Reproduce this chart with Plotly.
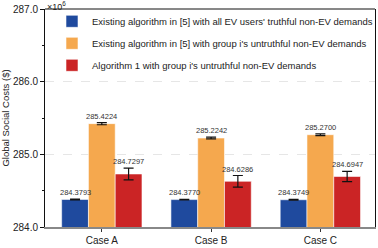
import plotly.graph_objects as go

cases = ["Case A", "Case B", "Case C"]
names = [
    "Existing algorithm in [5] with all EV users' truthful non-EV demands",
    "Existing algorithm in [5] with group i's untruthful non-EV demands",
    "Algorithm 1 with group i's untruthful non-EV demands",
]
values = [
    [284.3793, 284.3770, 284.3749],
    [285.4224, 285.2242, 285.2700],
    [284.7297, 284.6286, 284.6947],
]
errors = [
    [0.005, 0.005, 0.005],
    [0.015, 0.012, 0.012],
    [0.08, 0.08, 0.07],
]
colors = ["#1f4a9e", "#f5a84e", "#cb2425"]
FONT = "Liberation Sans, Arial"

fig = go.Figure()
offsets = [-1, 0, 1]
bw = 0.245
for i in range(3):
    fig.add_trace(go.Bar(
        x=[0, 1, 2], y=values[i], name=names[i], legendgroup=f"g{i}",
        marker=dict(color=colors[i], line=dict(color="rgba(255,255,255,0.7)", width=0.8)),
        width=bw, offset=offsets[i] * bw - bw / 2,
        error_y=dict(type="data", array=errors[i], visible=True, color="#111111",
                     thickness=1.2, width=5),
    ))
    for j in range(3):
        fig.add_annotation(
            x=j + offsets[i] * bw, y=values[i][j] + errors[i][j], text=f"{values[i][j]:.4f}",
            showarrow=False, yanchor="bottom", yshift=0,
            font=dict(family=FONT, size=7.5, color="#333333"),
        )

fig.add_annotation(
    xref="paper", yref="paper", x=0, y=1, xanchor="left", yanchor="bottom",
    text="×10<sup>6</sup>", showarrow=False, yshift=-5,
    font=dict(family=FONT, size=9, color="#222222"),
)

fig.update_layout(
    width=378, height=248,
    margin=dict(l=41, r=2, t=9, b=16),
    plot_bgcolor="white", paper_bgcolor="white",
    showlegend=True,
    legend=dict(x=0.05, y=1.01, xanchor="left", yanchor="top", bgcolor="rgba(0,0,0,0)",
                font=dict(family=FONT, size=9.5, color="#222222"),
                itemwidth=30, tracegroupgap=3, traceorder="grouped"),
    font=dict(family=FONT, color="#222222"),
)
fig.update_xaxes(
    range=[-0.52, 2.5], tickvals=[0, 1, 2], ticktext=cases,
    showline=True, linecolor="#888888", linewidth=2, mirror=False,
    ticks="outside", ticklen=3, tickcolor="#333333",
    tickfont=dict(size=10, family=FONT),
    showgrid=False, zeroline=False,
)
fig.update_yaxes(
    range=[284, 287], tickvals=[284, 285, 286, 287],
    ticktext=["284.0", "285.0", "286.0", "287.0"],
    showline=True, linecolor="#111111", linewidth=1, mirror=True,
    ticks="outside", ticklen=4, tickcolor="#111111",
    minor=dict(tickvals=[284.5, 285.5, 286.5], ticks="outside", ticklen=2, tickcolor="#111111", showgrid=False),
    tickfont=dict(size=10, family=FONT),
    showgrid=True, gridcolor="#e6e6e6", griddash="dash", gridwidth=0.8,
    zeroline=False,
    title=dict(text="Global Social Costs ($)", font=dict(size=9.5, family=FONT), standoff=4),
)
fig.add_shape(type="line", xref="paper", yref="paper", x0=0, x1=1, y0=1, y1=1,
              line=dict(color="#111111", width=1))

fig.write_html("out.html", config={"displayModeBar": False},
               post_script="document.body.style.margin='0';document.body.style.padding='0';")
